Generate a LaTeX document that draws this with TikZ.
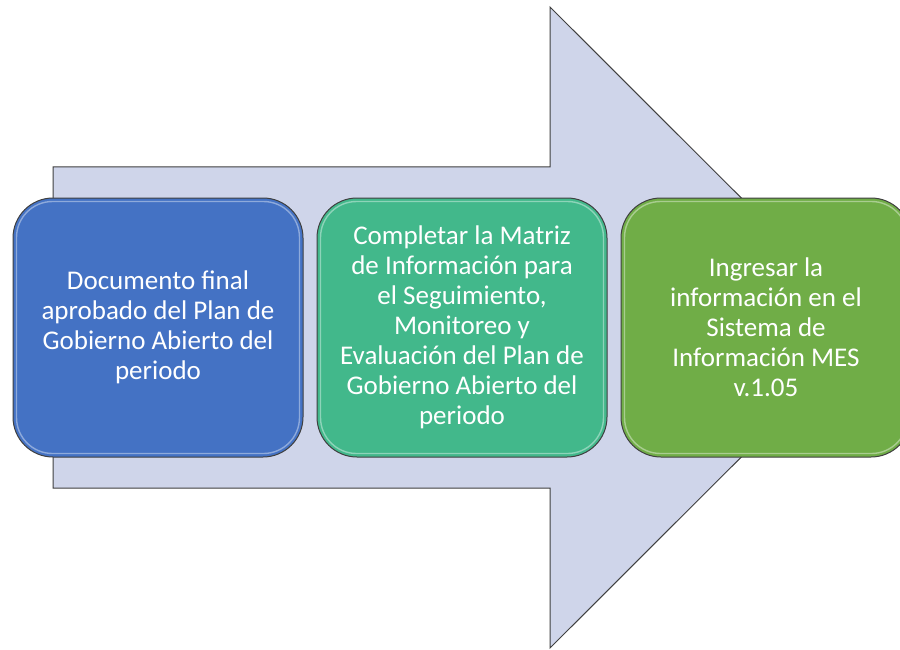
\documentclass[tikz,border=0pt]{standalone}
\usepackage{fontspec}
\setmainfont{Carlito}
\definecolor{arrowfill}{HTML}{CFD5EA}
\definecolor{edgegray}{HTML}{404040}
\definecolor{boxblue}{HTML}{4472C4}
\definecolor{boxteal}{HTML}{42B88B}
\definecolor{boxgreen}{HTML}{70AD47}
\tikzset{
  stepbox/.style={draw=edgegray, line width=1pt, rounded corners=40pt,
    minimum width=290pt, minimum height=259pt, inner sep=0pt,
    align=center, text=white,
    font=\fontsize{27}{30}\selectfont},
  bevel/.style={draw=white, line width=1.4pt, draw opacity=0.4, rounded corners=36pt},
  bigarrow/.style={fill=arrowfill, draw=edgegray, line width=1pt, line join=miter}
}
\begin{document}
\begin{tikzpicture}[x=1pt,y=-1pt]
\clip (0,0) rectangle (900,650);
\fill[white] (0,0) rectangle (900,650);
% big arrow
\draw[bigarrow] (53,167) -- (550,167) -- (550,7) -- (871,327.5) -- (550,648)
  -- (550,488) -- (53,488) -- cycle;
% boxes
\node[stepbox, fill=boxblue] (b1) at (158,327.5)
  {Documento final\\aprobado del Plan de\\Gobierno Abierto del\\periodo};
\node[stepbox, fill=boxteal] (b2) at (462,327.5)
  {Completar la Matriz\\de Información para\\el Seguimiento,\\Monitoreo y\\Evaluación del Plan de\\Gobierno Abierto del\\periodo};
\node[stepbox, fill=boxgreen] (b3) at (766,327.5)
  {Ingresar la\\información en el\\Sistema de\\Información MES\\v.1.05};
\foreach \n in {b1,b2,b3}{
  \draw[bevel] ([xshift=4pt,yshift=-4pt]\n.north west) rectangle ([xshift=-4pt,yshift=4pt]\n.south east);
}
\end{tikzpicture}
\end{document}
